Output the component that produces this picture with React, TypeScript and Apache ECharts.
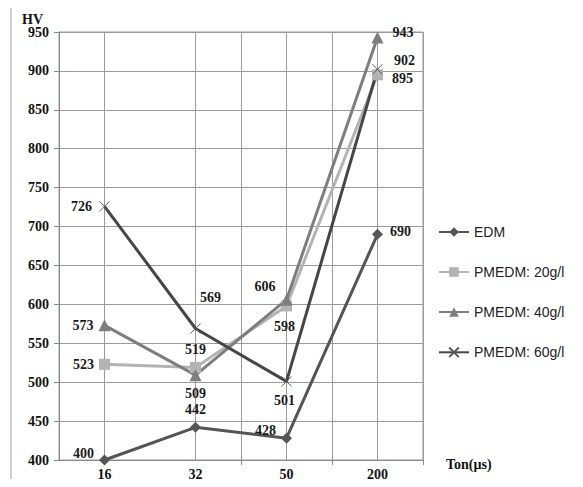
import React, { useEffect, useRef } from "react";
import * as echarts from "echarts";

// Pulse-on time categories (µs)
const tonValues = ["16", "32", "50", "200"];

// Microhardness (HV) per process
const edm = [400, 442, 428, 690];
const pmedm20 = [523, 519, 598, 895];
const pmedm40 = [573, 509, 606, 943];
const pmedm60 = [726, 569, 501, 902];

const seriesNames = ["EDM", "PMEDM: 20g/l", "PMEDM: 40g/l", "PMEDM: 60g/l"];

// Y axis range
const yMin = 400;
const yMax = 950;
const yStep = 50;

// half-band slots used only for the vertical grid lines
const halfSlots = ["h0", "h1", "h2", "h3", "h4", "h5", "h6", "h7"];

type LabelPlace = { position: string; offset?: [number, number] };

const edmLabels: LabelPlace[] = [
  { position: "left", offset: [0, -7] },
  { position: "top" },
  { position: "left", offset: [0, -8] },
  { position: "right", offset: [2, -3] },
];
const p20Labels: LabelPlace[] = [
  { position: "left" },
  { position: "top" },
  { position: "bottom", offset: [-2, 3] },
  { position: "right", offset: [4, 4] },
];
const p40Labels: LabelPlace[] = [
  { position: "left" },
  { position: "bottom" },
  { position: "left", offset: [0, -13] },
  { position: "right", offset: [4, -5] },
];
const p60Labels: LabelPlace[] = [
  { position: "left" },
  { position: "top", offset: [15, -11] },
  { position: "bottom", offset: [-2, 0] },
  { position: "right", offset: [4, -9] },
];

const SERIF = "'Liberation Serif', 'Times New Roman', serif";
const SANS = "'Liberation Sans', Arial, sans-serif";

const crossPath = "path://M0,0L10,10M10,0L0,10";

function buildData(values: number[], places: LabelPlace[]) {
  return values.map((v, i) => ({
    value: v,
    label: {
      position: places[i].position as any,
      offset: places[i].offset ?? [0, 0],
    },
  }));
}

const labelStyle = {
  show: true,
  fontFamily: SERIF,
  fontWeight: "bold" as const,
  fontSize: 14,
  color: "#1a1a1a",
};

export default function App() {
  const ref = useRef<HTMLDivElement>(null);

  useEffect(() => {
    if (!ref.current) return;
    const chart = echarts.init(ref.current, undefined, { renderer: "svg" });

    const mk = (
      name: string,
      values: number[],
      places: LabelPlace[],
      color: string,
      symbol: string,
      symbolSize: number,
      extraItem: any = {}
    ) => ({
      name,
      type: "line",
      data: buildData(values, places),
      symbol,
      symbolSize,
      z: 3,
      lineStyle: { color, width: 3 },
      itemStyle: { color, ...extraItem },
      label: labelStyle,
      emphasis: { disabled: true },
    });

    chart.setOption({
      animation: false,
      backgroundColor: "#ffffff",
      grid: {
        left: 59,
        right: 160,
        top: 32,
        bottom: 27,
        show: true,
        borderColor: "#9a9a9a",
        borderWidth: 1,
      },
      legend: {
        data: seriesNames,
        orient: "vertical",
        left: 433,
        top: 220,
        itemWidth: 30,
        itemHeight: 12,
        itemGap: 26,
        textStyle: { fontFamily: SANS, fontSize: 14, color: "#222" },
      },
      graphic: [
        {
          type: "rect",
          shape: { x: 11, y: 7, width: 600, height: 520 },
          style: { fill: "none", stroke: "#a0a0a0", lineWidth: 1 },
          silent: true,
          z: -1,
        },
        {
          type: "text",
          left: 22,
          top: 12,
          style: {
            text: "HV",
            fontFamily: SERIF,
            fontWeight: "bold",
            fontSize: 14,
            fill: "#111",
          },
        },
        {
          type: "text",
          left: 446,
          top: 457,
          style: {
            text: "Ton(µs)",
            fontFamily: SERIF,
            fontWeight: "bold",
            fontSize: 14,
            fill: "#111",
          },
        },
      ],
      xAxis: [
        {
          type: "category",
          data: tonValues,
          boundaryGap: true,
          axisLine: { lineStyle: { color: "#8a8a8a", width: 1 } },
          axisTick: {
            show: true,
            length: 5,
            interval: (i: number) => i >= 2,
            lineStyle: { color: "#8a8a8a" },
          },
          axisLabel: {
            fontFamily: SERIF,
            fontWeight: "bold",
            fontSize: 14,
            color: "#111",
            margin: 7,
          },
          splitLine: { show: false },
        },
        {
          type: "category",
          data: halfSlots,
          boundaryGap: true,
          position: "bottom",
          axisLine: { show: false },
          axisTick: { show: false },
          axisLabel: { show: false },
          splitLine: {
            show: true,
            interval: (i: number) => [1, 3, 4, 5, 6, 7].includes(i),
            lineStyle: { color: "#9a9a9a", width: 1 },
          },
        },
      ],
      yAxis: {
        type: "value",
        min: yMin,
        max: yMax,
        interval: yStep,
        axisLine: { show: true, lineStyle: { color: "#8a8a8a" } },
        axisTick: { show: true, length: 5, lineStyle: { color: "#8a8a8a" } },
        axisLabel: {
          fontFamily: SERIF,
          fontWeight: "bold",
          fontSize: 14,
          color: "#111",
          margin: 10,
        },
        splitLine: { lineStyle: { color: "#9a9a9a", width: 1 } },
      },
      series: [
        mk(seriesNames[0], edm, edmLabels, "#555555", "diamond", 11),
        mk(seriesNames[1], pmedm20, p20Labels, "#b3b3b3", "rect", 11),
        mk(seriesNames[2], pmedm40, p40Labels, "#7e7e7e", "triangle", 12),
        mk(seriesNames[3], pmedm60, p60Labels, "#464646", crossPath, 10, {
          color: "none",
          borderColor: "#5a5a5a",
          borderWidth: 1,
        }),
      ],
    });

    return () => chart.dispose();
  }, []);

  return <div ref={ref} style={{ width: 583, height: 487, margin: -8 }} />;
}
